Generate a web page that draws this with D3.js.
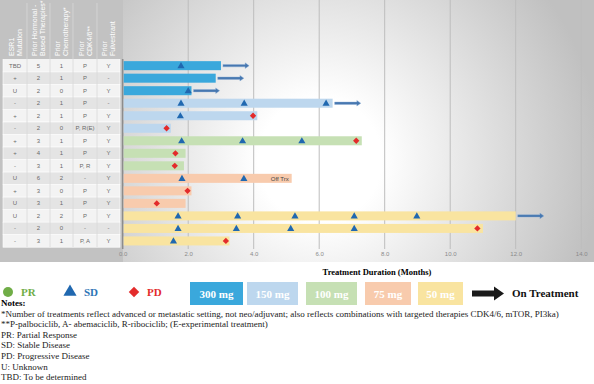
<!DOCTYPE html>
<html>
<head>
<meta charset="utf-8">
<script src="https://cdn.jsdelivr.net/npm/d3@7"></script>
<style>
  body { margin: 0; background: #fff; }
  svg { display: block; }
</style>
</head>
<body>
<div id="chart"></div>
<script>
(function () {
	'use strict';

	// table columns
	var esr1 = ['TBD', '+', 'U', '-', '+', '-', '+', '+', '-', 'U', '+', 'U', 'U', '-', '-'];
	var priorHormonal = ['5', '2', '2', '2', '2', '2', '3', '4', '3', '6', '3', '3', '2', '2', '3'];
	var priorChemo = ['1', '1', '0', '1', '1', '0', '1', '1', '1', '2', '0', '1', '2', '0', '1'];
	var priorCdk = ['P', 'P', 'P', 'P', 'P', 'P, R(E)', 'P', 'P', 'P, R', '-', 'P', 'P', 'P', '-', 'P, A'];
	var priorFulv = ['Y', '-', 'Y', '-', 'Y', 'Y', 'Y', 'Y', 'Y', 'Y', 'Y', 'Y', 'Y', '-', 'Y'];

	// bars
	var dose = ['300', '300', '300', '150', '150', '150', '100', '100', '100', '75', '75', '75', '50', '50', '50'];
	var duration = [3.0, 2.84, 2.1, 6.41, 4.11, 1.47, 7.3, 1.92, 1.87, 5.16, 2.1, 1.92, 12.0, 11.0, 3.26];
	var onTreatment = [true, true, true, true, false, false, false, false, false, false, false, false, true, false, false];
	var offTrx = [9];

	// responses: [row, month]
	var sdPoints = [[0, 1.78], [2, 2.0], [3, 1.78], [3, 3.71], [3, 6.21], [4, 1.76],
		[6, 1.8], [6, 3.66], [6, 5.47], [9, 1.81], [9, 3.70],
		[12, 1.69], [12, 3.51], [12, 5.26], [12, 7.07], [12, 8.98],
		[13, 1.69], [13, 3.47], [13, 5.13], [13, 7.07], [14, 1.55]];
	var pdPoints = [[4, 3.98], [5, 1.34], [6, 7.13], [7, 1.61], [8, 1.59], [10, 1.98], [11, 1.04], [13, 10.83], [14, 3.15]];

	var xTicks = [0, 2, 4, 6, 8, 10, 12, 14];
	var doseKeys = ['300', '150', '100', '75', '50'];
	var doseColors = ['#3aa8dc', '#bdd7ee', '#c6e0b4', '#f8cbad', '#f9e4a0'];
	var headers = [['ESR1', 'Mutation'], ['Prior Hormonal -', 'Based Therapies*'], ['Prior', 'Chemotherapy*'], ['Prior', 'CDK4/6**'], ['Prior', 'Fulvestrant']];
	var notes = [
		'*Number of treatments reflect advanced or metastatic setting, not neo/adjuvant; also reflects combinations with targeted therapies CDK4/6, mTOR, PI3ka)',
		'**P-palbociclib, A- abemaciclib, R-ribociclib; (E-experimental treatment)',
		'PR: Partial Response',
		'SD: Stable Disease',
		'PD: Progressive Disease',
		'U: Unknown',
		'TBD: To be determined'
	];

	var width = 594, height = 384;
	var rows = d3.range(esr1.length);

	var svg = d3.select('#chart').append('svg')
		.attr('width', width)
		.attr('height', height);

	var defs = svg.append('defs');
	var grad = defs.append('radialGradient')
		.attr('id', 'bg')
		.attr('gradientUnits', 'userSpaceOnUse')
		.attr('cx', 320).attr('cy', 160).attr('r', 280);
	grad.append('stop').attr('offset', '0.22').attr('stop-color', '#ffffff');
	grad.append('stop').attr('offset', '1').attr('stop-color', '#c0c0c0');

	var xScale = d3.scaleLinear().domain([0, 14]).range([122.7, 581.2]);
	var yScale = d3.scaleBand().domain(rows).range([59.4, 247.2]).paddingInner(0.28).paddingOuter(0.14);
	var colorScale = d3.scaleOrdinal().domain(doseKeys).range(doseColors);

	// plot background
	svg.append('rect')
		.attr('x', 122).attr('y', 0)
		.attr('width', width - 122).attr('height', 262)
		.attr('fill', 'url(#bg)');

	// table background
	svg.append('rect')
		.attr('x', 0).attr('y', 0)
		.attr('width', 123).attr('height', 262)
		.attr('fill', '#c2c2c2');

	// gridlines
	svg.append('g')
		.selectAll('line')
		.data(xTicks.slice(1))
		.enter().append('line')
		.attr('x1', function (d) { return xScale(d); })
		.attr('x2', function (d) { return xScale(d); })
		.attr('y1', 0).attr('y2', 249)
		.attr('stroke', '#bdbdbd')
		.attr('stroke-width', 1);

	// x axis
	var xAxis = svg.append('g')
		.attr('transform', 'translate(0,249)')
		.call(d3.axisBottom(xScale).tickValues(xTicks).tickFormat(d3.format('.1f')).tickSize(0).tickPadding(3));
	xAxis.select('.domain').remove();
	xAxis.selectAll('text')
		.attr('fill', '#8a8a8a')
		.style('font-family', 'Liberation Sans, Arial, sans-serif')
		.style('font-size', '6px');

	// table
	var colEdges = [3, 27, 50, 73, 97, 120];
	var cols = [esr1, priorHormonal, priorChemo, priorCdk, priorFulv];
	var table = svg.append('g');

	table.selectAll('rect.row')
		.data(rows)
		.enter().append('rect')
		.attr('class', 'row')
		.attr('x', colEdges[0])
		.attr('y', function (d) { return yScale(d) - yScale.step() * 0.14; })
		.attr('width', colEdges[5] - colEdges[0])
		.attr('height', yScale.step())
		.attr('fill', function (d) { return d % 2 === 0 ? '#f3f3f3' : '#e4e4e4'; })
		.attr('stroke', '#ffffff')
		.attr('stroke-width', 0.6);

	// column dividers
	table.selectAll('line.col')
		.data(colEdges.slice(1, 5))
		.enter().append('line')
		.attr('x1', function (d) { return d; })
		.attr('x2', function (d) { return d; })
		.attr('y1', 3).attr('y2', 247)
		.attr('stroke', '#d8d8d8')
		.attr('stroke-width', 0.8);

	cols.forEach(function (col, ci) {
		var cx = (colEdges[ci] + colEdges[ci + 1]) / 2;
		table.selectAll('text.c' + ci)
			.data(col)
			.enter().append('text')
			.attr('x', cx)
			.attr('y', function (d, i) { return yScale(i) + yScale.bandwidth() / 2 + 2; })
			.attr('text-anchor', 'middle')
			.attr('fill', '#6a6a6a')
			.style('font-family', 'Liberation Sans, Arial, sans-serif')
			.style('font-size', '6px')
			.text(function (d) { return d; });

		var h = table.append('text')
			.attr('transform', 'translate(' + (cx + 1) + ',56) rotate(-90)')
			.attr('fill', '#ffffff')
			.style('font-family', 'Liberation Sans, Arial, sans-serif')
			.style('font-size', '7px');
		h.append('tspan').attr('x', 0).attr('dy', '-0.3em').text(headers[ci][0]);
		h.append('tspan').attr('x', 0).attr('dy', '1.1em').text(headers[ci][1]);
	});

	// axis separator
	svg.append('line')
		.attr('x1', xScale(0)).attr('x2', xScale(0))
		.attr('y1', 59).attr('y2', 249)
		.attr('stroke', '#8c8c8c')
		.attr('stroke-width', 1.5);

	// bars
	svg.append('g')
		.selectAll('rect')
		.data(rows)
		.enter().append('rect')
		.attr('x', xScale(0) + 1)
		.attr('y', function (d) { return yScale(d); })
		.attr('width', function (d) { return xScale(duration[d]) - xScale(0) - 1; })
		.attr('height', yScale.bandwidth())
		.attr('fill', function (d) { return colorScale(dose[d]); });

	// on-treatment arrows
	function arrowPath(x0, len, yc) {
		var x1 = x0 + len;
		return 'M' + x0 + ',' + (yc - 1.2) + 'L' + (x1 - 4) + ',' + (yc - 1.2) + 'L' + (x1 - 4) + ',' + (yc - 2.8) +
			'L' + x1 + ',' + yc + 'L' + (x1 - 4) + ',' + (yc + 2.8) + 'L' + (x1 - 4) + ',' + (yc + 1.2) +
			'L' + x0 + ',' + (yc + 1.2) + 'Z';
	}
	svg.append('g')
		.selectAll('path')
		.data(rows.filter(function (d) { return onTreatment[d]; }))
		.enter().append('path')
		.attr('d', function (d) {
			var x0 = xScale(duration[d]) + 2;
			return arrowPath(x0, xScale(0.8) - xScale(0), yScale(d) + yScale.bandwidth() / 2);
		})
		.attr('fill', '#4677b0')
		.attr('stroke', '#8fb0d6')
		.attr('stroke-width', 0.4);

	// Off Trx label
	svg.selectAll('text.off')
		.data(offTrx)
		.enter().append('text')
		.attr('class', 'off')
		.attr('x', function (d) { return xScale(duration[d]) - 3; })
		.attr('y', function (d) { return yScale(d) + yScale.bandwidth() / 2 + 2.2; })
		.attr('text-anchor', 'end')
		.attr('fill', '#444')
		.style('font-family', 'Liberation Sans, Arial, sans-serif')
		.style('font-size', '6px')
		.text('Off Trx');

	// markers
	var tri = d3.symbol().type(d3.symbolTriangle).size(22);
	var dia = d3.symbol().type(d3.symbolSquare).size(20);

	svg.append('g')
		.selectAll('path')
		.data(sdPoints)
		.enter().append('path')
		.attr('d', tri)
		.attr('transform', function (d) {
			return 'translate(' + xScale(d[1]) + ',' + (yScale(d[0]) + yScale.bandwidth() / 2 + 0.5) + ')';
		})
		.attr('fill', '#2068b0');

	svg.append('g')
		.selectAll('path')
		.data(pdPoints)
		.enter().append('path')
		.attr('d', dia)
		.attr('transform', function (d) {
			return 'translate(' + xScale(d[1]) + ',' + (yScale(d[0]) + yScale.bandwidth() / 2) + ') rotate(45)';
		})
		.attr('fill', '#e32b2b');

	// axis title
	svg.append('text')
		.attr('x', 377).attr('y', 275)
		.attr('text-anchor', 'middle')
		.attr('font-weight', 'bold')
		.style('font-family', 'Liberation Serif, Times New Roman, serif')
		.style('font-size', '8.5px')
		.text('Treatment Duration (Months)');

	// legend
	var legend = svg.append('g').style('font-family', 'Liberation Serif, Times New Roman, serif').attr('font-weight', 'bold');
	legend.append('circle').attr('cx', 8).attr('cy', 292).attr('r', 5).attr('fill', '#70ad47');
	legend.append('text').attr('x', 21).attr('y', 296).attr('fill', '#70ad47').style('font-size', '11px').text('PR');
	legend.append('path').attr('d', d3.symbol().type(d3.symbolTriangle).size(75))
		.attr('transform', 'translate(70,292)').attr('fill', '#2068b0');
	legend.append('text').attr('x', 84).attr('y', 296).attr('fill', '#2e75b6').style('font-size', '11px').text('SD');
	legend.append('path').attr('d', d3.symbol().type(d3.symbolSquare).size(55))
		.attr('transform', 'translate(134,292) rotate(45)').attr('fill', '#e32b2b');
	legend.append('text').attr('x', 147).attr('y', 296).attr('fill', '#e32b2b').style('font-size', '11px').text('PD');

	var boxX = [190, 247, 306, 365, 418];
	var boxW = [53, 51, 51, 46, 45];
	doseKeys.forEach(function (k, i) {
		legend.append('rect')
			.attr('x', boxX[i]).attr('y', 282)
			.attr('width', boxW[i]).attr('height', 23)
			.attr('fill', colorScale(k));
		legend.append('text')
			.attr('x', boxX[i] + boxW[i] / 2).attr('y', 297.5)
			.attr('text-anchor', 'middle')
			.attr('fill', '#ffffff')
			.style('font-size', '11px')
			.text(k + ' mg');
	});
	legend.append('path')
		.attr('d', 'M472,290.5L494,290.5L494,286.5L504,293.5L494,300.5L494,296.5L472,296.5Z')
		.attr('fill', '#1a1a1a');
	legend.append('text').attr('x', 512).attr('y', 297).attr('fill', '#111').style('font-size', '11px').text('On Treatment');

	// notes
	var noteG = svg.append('g').style('font-family', 'Liberation Serif, Times New Roman, serif').style('font-size', '9px');
	noteG.append('text').attr('x', 1).attr('y', 306).attr('font-weight', 'bold').text('Notes:');
	noteG.selectAll('text.n')
		.data(notes)
		.enter().append('text')
		.attr('class', 'n')
		.attr('x', 1)
		.attr('y', function (d, i) { return 316.5 + i * 10.6; })
		.attr('fill', '#222')
		.text(function (d) { return d; });
})();
</script>
</body>
</html>
